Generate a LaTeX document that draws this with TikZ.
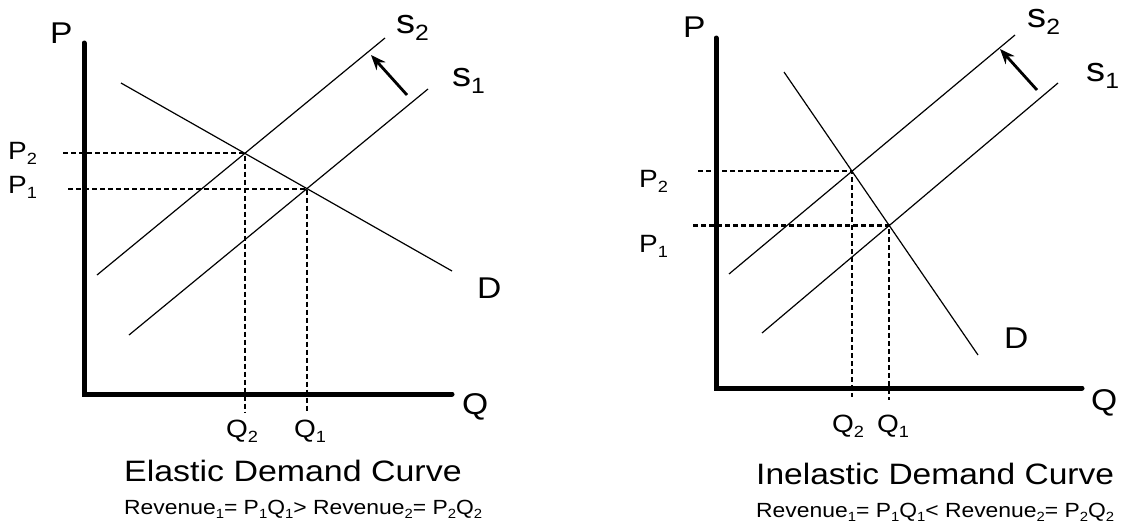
\documentclass[tikz,border=0pt]{standalone}
\usepackage{fontspec}
\setmainfont{Liberation Sans}
\usetikzlibrary{arrows.meta,intersections}
\newcommand\lsub[1]{\raisebox{-0.22em}{\scalebox{0.65}{#1}}}
\newcommand\wide[2][1.12]{\scalebox{#1}[1]{#2}}
\begin{document}
\begin{tikzpicture}[x=1pt,y=-1pt,
  axisline/.style={line width=5pt, line cap=round, line join=miter},
  thinline/.style={line width=1.2pt},
  guide/.style={line width=2.2pt, dash pattern=on 5pt off 3pt},
  shiftarrow/.style={line width=2.8pt, -{Stealth[length=15pt,width=12pt]}},
  lab/.style={inner sep=0pt, anchor=base west},
  biglab/.style={lab, font=\fontsize{30}{32}\selectfont},
  slab/.style={lab, font=\fontsize{34}{36}\selectfont},
  midlab/.style={lab, font=\fontsize{25}{27}\selectfont},
  ttl/.style={lab, font=\fontsize{29.5}{31}\selectfont},
  rev/.style={lab, font=\fontsize{20.5}{22}\selectfont}]
\useasboundingbox (0,0) rectangle (1127,531);

% ---------- left panel: elastic ----------
\coordinate (LaT) at (84,43);
\coordinate (LaO) at (84,394);
\coordinate (LaR) at (452,394);
\coordinate (S2a1) at (97,275);  \coordinate (S2a2) at (385,38);
\coordinate (S1a1) at (129,335); \coordinate (S1a2) at (428,89);
\coordinate (Da1) at (121,83);   \coordinate (Da2) at (452,271);
\coordinate (ArA1) at (407,95);  \coordinate (ArA2) at (371,55);
\coordinate (HsA2) at (63,0);  \coordinate (HsA1) at (68,0);
\coordinate (VeA) at (0,412);

\draw[axisline] (LaT) -- (LaO) -- (LaR);
\draw[thinline, name path=S2a] (S2a1) -- (S2a2);
\draw[thinline, name path=S1a] (S1a1) -- (S1a2);
\draw[thinline, name path=Da] (Da1) -- (Da2);
\path[name intersections={of=Da and S2a, by=XA2}];
\path[name intersections={of=Da and S1a, by=XA1}];
\draw[guide] (XA2 -| HsA2) -- (XA2) -- (XA2 |- VeA);
\draw[guide] (XA1 -| HsA1) -- (XA1) -- (XA1 |- VeA);
\draw[shiftarrow] (ArA1) -- (ArA2);

\node[biglab] (PA) at (50,43) {\wide{P}};
\node[slab] (S2LA) at (396,33) {\wide{s\lsub{2}}};
\node[slab] (S1LA) at (452,86) {\wide{s\lsub{1}}};
\node[biglab] (DLA) at (477,298) {\wide{D}};
\node[biglab] (QA) at (462,414) {\wide{Q}};
\node[midlab] (P2A) at (8,159) {\wide{P\lsub{2}}};
\node[midlab] (P1A) at (8,193) {\wide{P\lsub{1}}};
\node[midlab] (Q2A) at (226,437) {\wide{Q\lsub{2}}};
\node[midlab] (Q1A) at (294,437) {\wide{Q\lsub{1}}};
\node[ttl] (TA) at (124,481) {\wide[1.15]{Elastic Demand Curve}};
\node[rev] (RA) at (124,514) {\wide[1.116]{Revenue\lsub{1}= P\lsub{1}Q\lsub{1}> Revenue\lsub{2}= P\lsub{2}Q\lsub{2}}};

% ---------- right panel: inelastic ----------
\coordinate (LbT) at (716,38);
\coordinate (LbO) at (716,388);
\coordinate (LbR) at (1082,388);
\coordinate (S2b1) at (729,274);  \coordinate (S2b2) at (1015,35);
\coordinate (S1b1) at (762,333);  \coordinate (S1b2) at (1058,83);
\coordinate (Db1) at (784,72);    \coordinate (Db2) at (978,355);
\coordinate (ArB1) at (1037,90);  \coordinate (ArB2) at (1000,49);
\coordinate (HsB2) at (698,0);  \coordinate (HsB1) at (693,0);
\coordinate (VeB2) at (0,397);  \coordinate (VeB1) at (0,400);

\draw[axisline] (LbT) -- (LbO) -- (LbR);
\draw[thinline, name path=S2b] (S2b1) -- (S2b2);
\draw[thinline, name path=S1b] (S1b1) -- (S1b2);
\draw[thinline, name path=Db] (Db1) -- (Db2);
\path[name intersections={of=Db and S2b, by=XB2}];
\path[name intersections={of=Db and S1b, by=XB1}];
\draw[guide] (XB2 -| HsB2) -- (XB2) -- (XB2 |- VeB2);
\draw[guide] (XB1 -| HsB1) -- (XB1) -- (XB1 |- VeB1);
\draw[shiftarrow] (ArB1) -- (ArB2);

\node[biglab] (PB) at (683,37) {\wide{P}};
\node[slab] (S2LB) at (1027,27) {\wide{s\lsub{2}}};
\node[slab] (S1LB) at (1086,81) {\wide{s\lsub{1}}};
\node[biglab] (DLB) at (1004,348) {\wide{D}};
\node[biglab] (QB) at (1091,410) {\wide{Q}};
\node[midlab] (P2B) at (639,187) {\wide{P\lsub{2}}};
\node[midlab] (P1B) at (639,252) {\wide{P\lsub{1}}};
\node[midlab] (Q2B) at (832,432) {\wide{Q\lsub{2}}};
\node[midlab] (Q1B) at (877,432) {\wide{Q\lsub{1}}};
\node[ttl] (TB) at (756,484) {\wide[1.137]{Inelastic Demand Curve}};
\node[rev] (RB) at (756,517) {\wide[1.116]{Revenue\lsub{1}= P\lsub{1}Q\lsub{1}< Revenue\lsub{2}= P\lsub{2}Q\lsub{2}}};
\end{tikzpicture}
\end{document}
